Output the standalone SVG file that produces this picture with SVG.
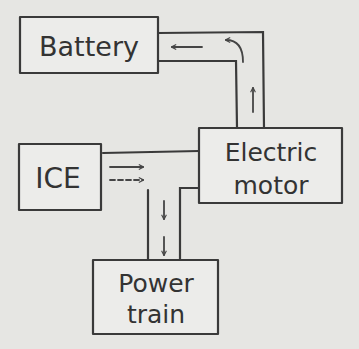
<svg xmlns="http://www.w3.org/2000/svg" width="359" height="349" viewBox="0 0 359 349">
<style>
.box{fill:#ececea;stroke:#3a3a3a;stroke-width:2.2;stroke-linejoin:round}
.ln{fill:none;stroke:#3a3a3a;stroke-width:2.2;stroke-linecap:round}
.ar{fill:none;stroke:#454545;stroke-width:1.8;stroke-linecap:round;marker-end:url(#ah)}
.t{font-family:"DejaVu Sans",sans-serif;fill:#333;text-anchor:middle}
</style>
<defs>
<marker id="ah" viewBox="0 0 10 10" refX="8" refY="5" markerWidth="6" markerHeight="6" orient="auto-start-reverse" markerUnits="userSpaceOnUse">
<path d="M1,1 L9,5 L1,9" fill="none" stroke="#454545" stroke-width="1.8"/>
</marker>
</defs>
<rect width="359" height="349" fill="#e6e6e3"/>
<g id="connectors">
<path class="ln" d="M158,33 L263,32 L264,128"/>
<path class="ln" d="M158,61 L236,61 L237,128"/>
<path class="ln" d="M103,153 L199,151"/>
<path class="ln" d="M199,188 L180,188 L180,260"/>
<path class="ln" d="M148,190 L148,260"/>
<path class="ar" d="M202,47 L172,47"/>
<path class="ar" d="M243,62 C243,48 238,40 226,40"/>
<path class="ar" d="M253,112 L253,88"/>
<path class="ar" d="M110,167 L143,167"/>
<path class="ar" d="M110,180 L143,180" stroke-dasharray="5 3"/>
<path class="ar" d="M164,201 L164,219"/>
<path class="ar" d="M164,237 L164,255"/>
</g>
<g id="battery">
<rect class="box" x="20" y="17" width="138" height="56"/>
<text class="t" x="89" y="56" font-size="27">Battery</text>
</g>
<g id="electric-motor">
<rect class="box" x="199" y="128" width="143" height="75"/>
<text class="t" x="271" y="161" font-size="25">Electric</text>
<text class="t" x="271" y="194" font-size="25">motor</text>
</g>
<g id="ice">
<rect class="box" x="19" y="144" width="82" height="66"/>
<text class="t" x="58" y="188" font-size="28">ICE</text>
</g>
<g id="power-train">
<rect class="box" x="93" y="260" width="125" height="74"/>
<text class="t" x="156" y="292" font-size="25">Power</text>
<text class="t" x="156" y="323" font-size="25">train</text>
</g>
</svg>
